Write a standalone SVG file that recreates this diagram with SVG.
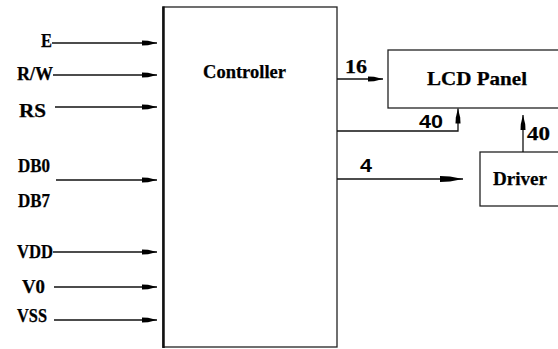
<svg xmlns="http://www.w3.org/2000/svg" width="558" height="349" viewBox="0 0 558 349">
<defs>
<style>
.lbl{font-family:"Times New Roman","Liberation Serif",Tinos,"DejaVu Serif",serif;font-weight:700;font-size:19px;fill:#000;stroke:#000;stroke-width:0.25}
.num{font-family:Arial,"Liberation Sans",sans-serif;font-weight:700;font-size:19px;fill:#000}
.ln{stroke:#111;stroke-width:1.3;fill:none}
.box{stroke:#222;stroke-width:1.3;fill:#fff}
</style>
<marker id="ah" markerWidth="16" markerHeight="8" refX="15" refY="4" orient="auto" markerUnits="userSpaceOnUse">
<path d="M0,1.5 L6,1.8 L15,4 L6,6.2 L0,6.5 z" fill="#000"/>
</marker>
<marker id="ahb" markerWidth="24" markerHeight="10" refX="23" refY="5" orient="auto" markerUnits="userSpaceOnUse">
<path d="M0,2 L10,2.5 L23,5 L10,7.5 L0,8 z" fill="#000"/>
</marker>
</defs>
<rect width="558" height="349" fill="#fff"/>
<g id="controller">
<rect class="box" x="163" y="7" width="174" height="340"/>
<line x1="163.5" y1="6.5" x2="163.5" y2="348" stroke="#111" stroke-width="2.5"/>
<text class="lbl" x="203" y="78" textLength="83" lengthAdjust="spacingAndGlyphs">Controller</text>
</g>
<g id="lcd-panel">
<rect class="box" x="388" y="50" width="175" height="58"/>
<text class="lbl" x="427" y="85" textLength="100" lengthAdjust="spacingAndGlyphs">LCD Panel</text>
</g>
<g id="driver">
<rect class="box" x="480" y="152" width="85" height="54"/>
<text class="lbl" x="493" y="185" textLength="54" lengthAdjust="spacingAndGlyphs">Driver</text>
</g>
<g id="labels">
<text class="lbl" x="41" y="47" textLength="11" lengthAdjust="spacingAndGlyphs">E</text>
<text class="lbl" x="17" y="80" textLength="36" lengthAdjust="spacingAndGlyphs">R/W</text>
<text class="lbl" x="19" y="117" textLength="27" lengthAdjust="spacingAndGlyphs">RS</text>
<text class="lbl" x="18" y="172" textLength="32" lengthAdjust="spacingAndGlyphs">DB0</text>
<text class="lbl" x="18" y="207" textLength="32" lengthAdjust="spacingAndGlyphs">DB7</text>
<text class="lbl" x="17" y="258" textLength="36" lengthAdjust="spacingAndGlyphs">VDD</text>
<text class="lbl" x="22" y="293" textLength="23" lengthAdjust="spacingAndGlyphs">V0</text>
<text class="lbl" x="17" y="322" textLength="30" lengthAdjust="spacingAndGlyphs">VSS</text>
<text class="lbl" x="345" y="73" textLength="22" lengthAdjust="spacingAndGlyphs">16</text>
<text class="num" x="419" y="128" textLength="24" lengthAdjust="spacingAndGlyphs">40</text>
<text class="lbl" x="527" y="140" textLength="23" lengthAdjust="spacingAndGlyphs">40</text>
<text class="num" x="360" y="172" textLength="12" lengthAdjust="spacingAndGlyphs">4</text>
</g>
<g id="connectors">
<line class="ln" x1="52" y1="43" x2="157" y2="43" marker-end="url(#ah)"/>
<line class="ln" x1="53" y1="75" x2="157" y2="75" marker-end="url(#ah)"/>
<line class="ln" x1="55" y1="107" x2="157" y2="107" marker-end="url(#ah)"/>
<line class="ln" x1="56" y1="180" x2="157" y2="180" marker-end="url(#ah)" stroke-width="1.8"/>
<line class="ln" x1="53" y1="252" x2="157" y2="252" marker-end="url(#ah)"/>
<line class="ln" x1="54" y1="287" x2="157" y2="287" marker-end="url(#ah)"/>
<line class="ln" x1="54" y1="320" x2="157" y2="320" marker-end="url(#ah)" stroke="#555"/>
<line class="ln" x1="337" y1="79" x2="383" y2="79" marker-end="url(#ah)"/>
<path class="ln" d="M337,131 H458 V108.5" marker-end="url(#ah)"/>
<line class="ln" x1="523" y1="152" x2="523" y2="115" marker-end="url(#ah)"/>
<line class="ln" x1="337" y1="179" x2="463" y2="179" marker-end="url(#ahb)"/>
</g>
</svg>
